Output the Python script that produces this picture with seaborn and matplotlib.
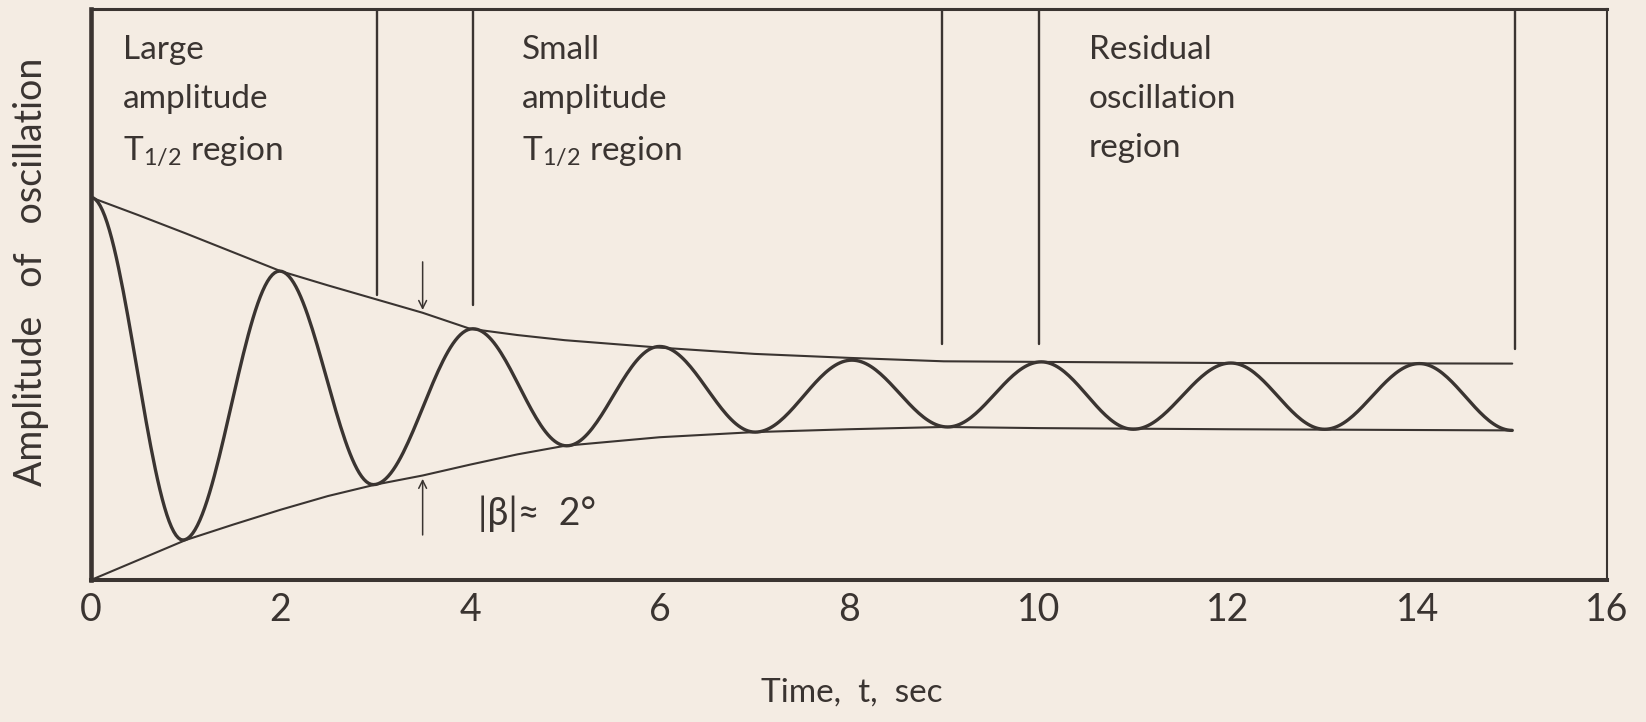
import numpy as np
import matplotlib
matplotlib.use('Agg')
import matplotlib.pyplot as plt
import seaborn as sns

# values (y in arbitrary amplitude units, frame = 0..10)
upper_t = [0, 0.5, 1, 1.5, 2, 2.5, 3, 3.5, 4, 4.5, 5, 6, 7, 8, 9, 10, 12, 15]
upper_a = [6.70, 6.39, 6.07, 5.74, 5.41, 5.16, 4.92, 4.68, 4.40, 4.29, 4.20, 4.07, 3.96, 3.89, 3.83, 3.82, 3.80, 3.79]
lower_t = [0, 0.5, 1, 1.5, 2, 2.5, 3, 3.5, 4, 4.5, 5, 6, 7, 8, 9, 10, 12, 15]
lower_a = [0.0, 0.35, 0.70, 0.97, 1.23, 1.47, 1.67, 1.83, 2.02, 2.20, 2.35, 2.50, 2.59, 2.64, 2.68, 2.66, 2.64, 2.62]

# peaks and troughs of the oscillation trace
ext_t = [0, 0.97, 1.99, 2.98, 4.03, 5.02, 6.0, 7.01, 8.03, 9.04, 10.03, 11.0, 12.03, 13.02, 14.02, 15.0]
ext_a = [6.70, 0.70, 5.41, 1.67, 4.40, 2.35, 4.09, 2.59, 3.85, 2.68, 3.82, 2.64, 3.80, 2.64, 3.79, 2.62]

# region dividers: time and lower end of each line
div_t = [3.02, 4.03, 8.98, 10.0, 15.03]
div_bottom = [4.99, 4.81, 4.13, 4.13, 4.05]

xticks = [0, 2, 4, 6, 8, 10, 12, 14, 16]
region_labels = ["Large\namplitude\nT$_{\\mathregular{1/2}}$ region",
                 "Small\namplitude\nT$_{\\mathregular{1/2}}$ region",
                 "Residual\noscillation\nregion"]
region_t = [0.34, 4.55, 10.53]

ink = '#3a3431'
paper = '#f4ece3'

sns.set_theme(style='white')
plt.rcParams['font.family'] = ['Lato', 'DejaVu Sans']
plt.rcParams['mathtext.fontset'] = 'custom'
plt.rcParams['mathtext.rm'] = 'Lato'

fig = plt.figure(figsize=(16.46, 7.22), dpi=100, facecolor=paper)
ax = fig.add_axes([0.0553, 0.1967, 0.921, 0.7908])
ax.set_facecolor(paper)


def half_cos(ts, vs, n=40):
    # smooth swing between consecutive extrema
    xs, ys = [], []
    for i in range(len(ts) - 1):
        s = np.linspace(0, 1, n, endpoint=False)
        xs.append(ts[i] + (ts[i + 1] - ts[i]) * s)
        ys.append(vs[i] + (vs[i + 1] - vs[i]) * (1 - np.cos(np.pi * s)) / 2)
    xs.append([ts[-1]])
    ys.append([vs[-1]])
    return np.concatenate(xs), np.concatenate(ys)


osc_x, osc_y = half_cos(ext_t, ext_a)

sns.lineplot(x=upper_t, y=upper_a, ax=ax, color=ink, lw=1.5, estimator=None)
sns.lineplot(x=lower_t, y=lower_a, ax=ax, color=ink, lw=1.5, estimator=None)
sns.lineplot(x=osc_x, y=osc_y, ax=ax, color=ink, lw=2.4, estimator=None, sort=False)

for t, b in zip(div_t, div_bottom):
    ax.plot([t, t], [b, 10], color=ink, lw=1.7)

for t, s in zip(region_t, region_labels):
    ax.text(t, 9.55, s, ha='left', va='top', fontsize=24, color=ink,
            linespacing=1.8)

# amplitude marker arrows
ax.annotate('', xy=(3.5, 4.68), xytext=(3.5, 5.62),
            arrowprops=dict(arrowstyle='->', color=ink, lw=1.1, mutation_scale=14))
ax.annotate('', xy=(3.5, 1.82), xytext=(3.5, 0.74),
            arrowprops=dict(arrowstyle='->', color=ink, lw=1.1, mutation_scale=14))
ax.text(4.08, 1.16, '|β|≈  2°', ha='left', va='center', fontsize=27, color=ink,
        family=['Lato', 'DejaVu Sans'])

ax.set_xlim(0, 16)
ax.set_ylim(0, 10)
ax.set_xticks(xticks)
ax.set_xticklabels([str(v) for v in xticks])
ax.set_yticks([])
ax.tick_params(axis='x', length=0, pad=9, labelsize=27, labelcolor=ink)

ax.set_xlabel('Time,  t,  sec', fontsize=24, color=ink)
ax.xaxis.set_label_coords(0.502, -0.17)
ax.set_ylabel('Amplitude   of   oscillation', fontsize=27, color=ink)
ax.yaxis.set_label_coords(-0.028, 0.54)

widths = {'left': 3.3, 'bottom': 2.9, 'top': 2.2, 'right': 1.5}
for side, w in widths.items():
    ax.spines[side].set_visible(True)
    ax.spines[side].set_color(ink)
    ax.spines[side].set_linewidth(w)

plt.savefig('out.png', dpi=100, facecolor=paper)
